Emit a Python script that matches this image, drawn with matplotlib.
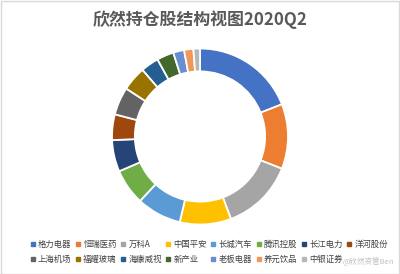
import matplotlib
matplotlib.use("Agg")
import matplotlib.pyplot as plt
from matplotlib.lines import Line2D
from matplotlib.patches import Rectangle

plt.rcParams['font.family'] = ['Noto Sans CJK SC', 'DejaVu Sans']

title = "欣然持仓股结构视图2020Q2"
stocks = ["格力电器", "恒瑞医药", "万科A", "中国平安", "长城汽车", "腾讯控股", "长江电力", "洋河股份",
          "上海机场", "福耀玻璃", "海康威视", "新产业", "老板电器", "养元饮品", "中银证券"]
weights = [19.0, 11.9, 13.3, 9.4, 8.2, 6.6, 5.8, 4.7, 5.1, 4.5, 3.3, 3.1, 2.0, 1.7, 1.2]
colors = ["#4472C4", "#ED7D31", "#A5A5A5", "#FFC000", "#5B9BD5", "#70AD47", "#264478", "#9E480E",
          "#636363", "#997300", "#255E91", "#43682B", "#698ED0", "#F1975A", "#B7B7B7"]

W, H = 400, 274
fig = plt.figure(figsize=(W / 100, H / 100), dpi=100)
fig.patch.set_facecolor("white")

cx, cy, r = 200, 136.5, 88
ax = fig.add_axes([(cx - r) / W, (H - cy - r) / H, 2 * r / W, 2 * r / H])
ax.pie(weights, colors=colors, startangle=90, counterclock=False, radius=1,
       wedgeprops=dict(width=0.26, edgecolor="white", linewidth=1.3))
ax.set_xlim(-1, 1)
ax.set_ylim(-1, 1)
ax.set_aspect("equal")
ax.axis("off")

fig.text(0.5, 1 - 20 / H, title, ha="center", va="center", fontsize=12.2,
         fontweight="bold", color="#595959")

# legend in row-major order across 8 columns
n = len(stocks)
ncol = 8
order = []
for c in range(ncol):
    for rr in range(2):
        i = rr * ncol + c
        if i < n:
            order.append(i)
handles = [Line2D([], [], linestyle="none", marker="s", markersize=2.6,
                  markerfacecolor=colors[i], markeredgecolor=colors[i]) for i in order]
labels = [stocks[i] for i in order]
leg = fig.legend(handles, labels, loc="center left", bbox_to_anchor=(26 / W, 1 - 252 / H), ncol=ncol,
                 frameon=False, fontsize=6.0, handlelength=0.6, handletextpad=0.35,
                 columnspacing=0.45, labelspacing=0.8, borderpad=0)
for t in leg.get_texts():
    t.set_color("#404040")
    t.set_fontweight("medium")

fig.text(394 / W, 1 - 262 / H, "@欣然资管Ben", ha="right", va="center", fontsize=5.5,
         color="#B0B0B0", alpha=0.8)

fig.patches.append(Rectangle((0.5 / W, 0.5 / H), 1 - 1.5 / W, 1 - 1.5 / H, transform=fig.transFigure,
                             fill=False, edgecolor="#D9D9D9", linewidth=1))

fig.savefig("out.png", dpi=100)
